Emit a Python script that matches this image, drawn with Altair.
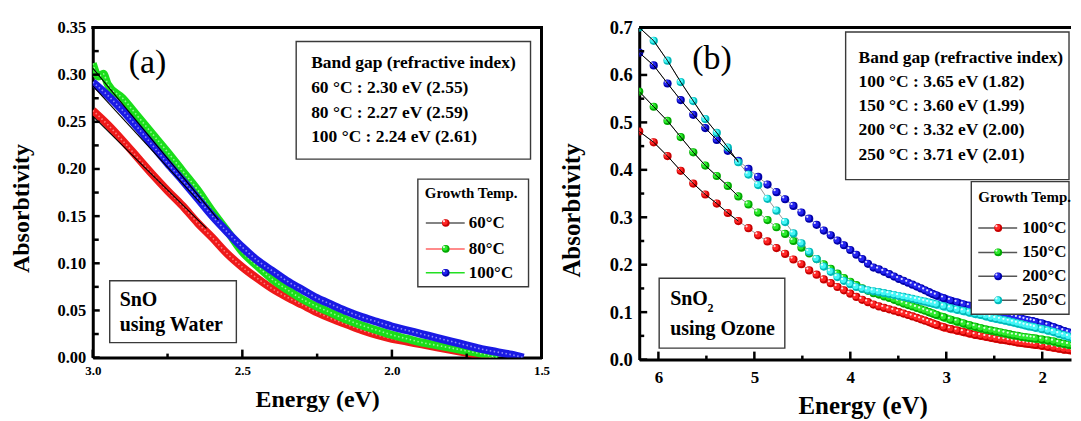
import altair as alt
import pandas as pd

FONT = "Liberation Serif"

# ---------------- panel (a): SnO using water ----------------
a_E_60 = [3.00, 2.95, 2.90, 2.85, 2.80, 2.75, 2.70, 2.65, 2.60, 2.55, 2.50, 2.45, 2.40, 2.35,
          2.30, 2.25, 2.20, 2.15, 2.10, 2.05, 2.00, 1.95, 1.90, 1.85, 1.80, 1.75, 1.70, 1.66]
a_A_60 = [0.262, 0.247, 0.230, 0.212, 0.194, 0.177, 0.161, 0.143, 0.127, 0.110, 0.096, 0.084,
          0.073, 0.064, 0.056, 0.048, 0.041, 0.035, 0.029, 0.024, 0.020, 0.017, 0.014, 0.011,
          0.008, 0.005, 0.002, 0.000]
a_E_80 = [3.00, 2.98, 2.965, 2.95, 2.90, 2.85, 2.80, 2.75, 2.70, 2.65, 2.60, 2.55, 2.50, 2.45,
          2.40, 2.35, 2.30, 2.25, 2.20, 2.15, 2.10, 2.05, 2.00, 1.95, 1.90, 1.85, 1.80, 1.75,
          1.70, 1.645]
a_A_80 = [0.312, 0.298, 0.301, 0.290, 0.275, 0.256, 0.237, 0.218, 0.198, 0.178, 0.155, 0.134,
          0.112, 0.097, 0.083, 0.072, 0.062, 0.054, 0.047, 0.040, 0.034, 0.029, 0.024, 0.020,
          0.016, 0.013, 0.010, 0.007, 0.004, 0.000]
a_E_100 = [3.00, 2.95, 2.90, 2.85, 2.80, 2.75, 2.70, 2.65, 2.60, 2.55, 2.50, 2.45, 2.40, 2.35,
           2.30, 2.25, 2.20, 2.15, 2.10, 2.05, 2.00, 1.95, 1.90, 1.85, 1.80, 1.75, 1.70, 1.65,
           1.60, 1.56]
a_A_100 = [0.292, 0.278, 0.262, 0.244, 0.225, 0.206, 0.188, 0.169, 0.150, 0.133, 0.117, 0.103,
           0.092, 0.081, 0.072, 0.063, 0.056, 0.049, 0.043, 0.038, 0.033, 0.029, 0.025, 0.021,
           0.017, 0.013, 0.009, 0.006, 0.003, 0.000]
a_fit_E_60, a_fit_A_60 = [3.00, 2.62], [0.256, 0.137]
a_fit_E_80, a_fit_A_80 = [3.00, 2.58], [0.307, 0.146]
a_fit_E_100, a_fit_A_100 = [3.00, 2.64], [0.288, 0.164]

a_xticks = [3.0, 2.5, 2.0, 1.5]
a_xminor = [2.75, 2.25, 1.75]
a_yticks = [0.00, 0.05, 0.10, 0.15, 0.20, 0.25, 0.30, 0.35]
a_yminor = [0.025, 0.075, 0.125, 0.175, 0.225, 0.275, 0.325]
a_info = ["Band gap (refractive index)", "60 °C : 2.30 eV (2.55)",
          "80 °C : 2.27 eV (2.59)", "100 °C : 2.24 eV (2.61)"]
a_legend = ["60°C", "80°C", "100°C"]

# ---------------- panel (b): SnO2 using ozone ----------------
b_lam = [200, 205, 210, 215, 220, 225, 230, 235, 240, 245, 250, 255, 260, 265, 270, 275, 280,
         285, 290, 295, 300, 305, 310, 315, 320, 325, 330,
         335, 340, 345, 350, 355, 360, 365, 370, 375, 380, 385, 390, 395, 400,
         410, 420, 430, 440, 450, 460, 470, 480, 490, 500, 510, 520, 530, 540, 550, 560,
         570, 580, 590, 600,
         620, 640, 660, 680, 700, 720, 740]
b_100 = [0.481, 0.458, 0.429, 0.398, 0.371, 0.348, 0.329, 0.309, 0.292, 0.277, 0.262, 0.249,
         0.235, 0.223, 0.211, 0.201, 0.188, 0.179, 0.169, 0.161, 0.153, 0.146, 0.139, 0.132,
         0.126, 0.121, 0.116,
         0.112, 0.109, 0.106, 0.103, 0.100, 0.097, 0.094, 0.091, 0.088, 0.085, 0.082, 0.079,
         0.076, 0.073,
         0.068, 0.064, 0.061, 0.058, 0.055, 0.052, 0.050, 0.048, 0.046, 0.044, 0.042, 0.041,
         0.039, 0.038, 0.036, 0.035, 0.034, 0.033, 0.032, 0.031,
         0.029, 0.027, 0.025, 0.023, 0.021, 0.020, 0.018]
b_150 = [0.565, 0.533, 0.503, 0.469, 0.437, 0.409, 0.387, 0.366, 0.344, 0.327, 0.310, 0.294,
         0.279, 0.265, 0.250, 0.236, 0.224, 0.212, 0.201, 0.191, 0.181, 0.172, 0.164, 0.157,
         0.150, 0.145, 0.140,
         0.137, 0.133, 0.130, 0.126, 0.122, 0.118, 0.115, 0.112, 0.109, 0.106, 0.103, 0.100,
         0.097, 0.094,
         0.089, 0.084, 0.080, 0.076, 0.072, 0.069, 0.066, 0.063, 0.061, 0.059, 0.057, 0.055,
         0.053, 0.051, 0.050, 0.048, 0.047, 0.046, 0.045, 0.044,
         0.042, 0.040, 0.038, 0.035, 0.033, 0.031, 0.029]
b_200 = [0.647, 0.620, 0.582, 0.547, 0.516, 0.488, 0.463, 0.440, 0.419, 0.402, 0.385, 0.369,
         0.353, 0.338, 0.324, 0.310, 0.297, 0.284, 0.272, 0.262, 0.251, 0.241, 0.231, 0.221,
         0.212, 0.202, 0.194,
         0.190, 0.185, 0.180, 0.175, 0.170, 0.166, 0.162, 0.158, 0.154, 0.150, 0.146, 0.142,
         0.138, 0.135,
         0.129, 0.124, 0.120, 0.116, 0.113, 0.110, 0.107, 0.104, 0.101, 0.099, 0.097, 0.094,
         0.092, 0.090, 0.088, 0.086, 0.084, 0.082, 0.081, 0.079,
         0.076, 0.072, 0.068, 0.064, 0.060, 0.057, 0.054]
b_250 = [0.700, 0.672, 0.630, 0.585, 0.545, 0.507, 0.478, 0.447, 0.416, 0.390, 0.368, 0.339,
         0.314, 0.290, 0.266, 0.245, 0.227, 0.212, 0.196, 0.185, 0.174, 0.166, 0.159, 0.153,
         0.149, 0.146, 0.144,
         0.142, 0.140, 0.138, 0.136, 0.134, 0.132, 0.130, 0.128, 0.126, 0.124, 0.122, 0.120,
         0.118, 0.116,
         0.112, 0.108, 0.105, 0.102, 0.099, 0.096, 0.094, 0.091, 0.088, 0.086, 0.084, 0.082,
         0.080, 0.078, 0.076, 0.074, 0.072, 0.070, 0.069, 0.067,
         0.064, 0.061, 0.058, 0.054, 0.051, 0.048, 0.045]
b_fit_max_lam = 240
b_dense_min_lam = 390

b_xticks = [6, 5, 4, 3, 2]
b_xminor = [5.5, 4.5, 3.5, 2.5]
b_yticks = [0.0, 0.1, 0.2, 0.3, 0.4, 0.5, 0.6, 0.7]
b_yminor = [0.05, 0.15, 0.25, 0.35, 0.45, 0.55, 0.65]
b_info = ["Band gap (refractive index)", "100 °C : 3.65 eV (1.82)", "150 °C : 3.60 eV (1.99)",
          "200 °C : 3.32 eV (2.00)", "250 °C : 3.71 eV (2.01)"]
b_legend = ["100°C", "150°C", "200°C", "250°C"]

# ---------------- styling ----------------
RED = ("#c80000", "#ff2626")
GREEN = ("#00a800", "#2cea2c")
BLUE = ("#0000a8", "#2424f0")
CYAN = ("#00b8b8", "#44f6f6")

WA, HA = 450, 331
WB, HB = 433, 333

one = pd.DataFrame({"k": [0]})


def axis(**kw):
    base = dict(ticks=False, grid=False, domain=True, domainColor="black", domainWidth=3,
                labelFont=FONT, labelFontWeight="bold", labelColor="black", labelFlush=False,
                labelOverlap=False, titleFont=FONT, titleFontWeight="bold", titleColor="black")
    base.update(kw)
    return alt.Axis(**base)


def txt(s, x, y, size, weight="bold", align="left", baseline="middle"):
    return alt.Chart(one).mark_text(text=s, font=FONT, fontSize=size, fontWeight=weight,
                                    align=align, baseline=baseline, color="black").encode(
        x=alt.value(x), y=alt.value(y))


def box(x1, y1, x2, y2, stroke="#3a3a3a", sw=1.4):
    return alt.Chart(one).mark_rect(fill="white", stroke=stroke, strokeWidth=sw).encode(
        x=alt.value(x1), x2=alt.value(x2), y=alt.value(y1), y2=alt.value(y2))


def hrule(x1, x2, y, color="black", sw=3, cap="square", opacity=1):
    return alt.Chart(one).mark_rule(color=color, strokeWidth=sw, strokeCap=cap,
                                    strokeOpacity=opacity).encode(
        x=alt.value(x1), x2=alt.value(x2), y=alt.value(y))


def vrule(x, y1, y2, color="black", sw=3, cap="square", opacity=1):
    return alt.Chart(one).mark_rule(color=color, strokeWidth=sw, strokeCap=cap,
                                    strokeOpacity=opacity).encode(
        x=alt.value(x), y=alt.value(y1), y2=alt.value(y2))


def sphere_value(x, y, cols, size=62):
    base, mid = cols
    return [
        alt.Chart(one).mark_circle(size=size, color=base, opacity=1).encode(x=alt.value(x), y=alt.value(y)),
        alt.Chart(one).mark_circle(size=size * 0.5, color=mid, opacity=1, xOffset=-0.8, yOffset=-0.8).encode(x=alt.value(x), y=alt.value(y)),
        alt.Chart(one).mark_circle(size=5, color="white", opacity=0.85, xOffset=-1.8, yOffset=-1.8).encode(x=alt.value(x), y=alt.value(y)),
    ]


def yticks(vals, ys, yax, length, sw=2.5):
    return alt.Chart(pd.DataFrame({"v": vals})).mark_rule(color="black", strokeWidth=sw).encode(
        y=alt.Y("v:Q", scale=ys, axis=yax), x=alt.value(0), x2=alt.value(length))


def xticks(vals, xs, xax, H, length, sw=2.5):
    return alt.Chart(pd.DataFrame({"v": vals})).mark_rule(color="black", strokeWidth=sw).encode(
        x=alt.X("v:Q", scale=xs, axis=xax), y=alt.value(H), y2=alt.value(H - length))


# ---------------- panel (a) ----------------
xa = alt.Scale(domain=[3.0, 1.5], nice=False, zero=False)
ya = alt.Scale(domain=[0, 0.35], nice=False, zero=False)
ax_xa = axis(values=a_xticks, format=".1f", labelFontSize=13, labelPadding=7,
             title="Energy (eV)", titleFontSize=24, titlePadding=10)
ax_ya = axis(values=a_yticks, format=".2f", labelFontSize=16.5, labelPadding=7,
             title="Absorbtivity", titleFontSize=24, titlePadding=24, titleY=181)
XA = lambda f="E": alt.X(f"{f}:Q", scale=xa, axis=ax_xa)
YA = lambda f="A": alt.Y(f"{f}:Q", scale=ya, axis=ax_ya)

layers_a = []
a_series = [(a_E_60, a_A_60, "#ee1a1a", "#ff9a9a"), (a_E_80, a_A_80, "#1ade1a", "#b0ffb0"),
            (a_E_100, a_A_100, "#1a1ae4", "#a8a8ff")]
for E, A, col, light in a_series:
    df = pd.DataFrame({"E": E, "A": A})
    layers_a.append(alt.Chart(df).mark_line(color=col, strokeWidth=8, clip=True,
                                            interpolate="monotone").encode(x=XA(), y=YA()))
    layers_a.append(alt.Chart(df).mark_line(color=light, strokeWidth=1.6, opacity=0.8, clip=True,
                                            strokeDash=[1.5, 2.5], interpolate="monotone").encode(
        x=XA(), y=YA()))
for E, A in [(a_fit_E_60, a_fit_A_60), (a_fit_E_80, a_fit_A_80), (a_fit_E_100, a_fit_A_100)]:
    layers_a.append(alt.Chart(pd.DataFrame({"E": E, "A": A})).mark_line(
        color="black", strokeWidth=1.1, clip=True).encode(x=XA(), y=YA()))

layers_a += [yticks(a_yticks, ya, ax_ya, 7), yticks(a_yminor, ya, ax_ya, 6),
             xticks(a_xticks, xa, ax_xa, HA, 8), xticks(a_xminor, xa, ax_xa, HA, 4),
             hrule(0, WA, 0), vrule(WA, 0, HA)]
layers_a.append(txt("(a)", 55, 36, 34, weight="normal", align="center"))
layers_a.append(box(204, 14, 439, 132))
for j, s in enumerate(a_info):
    layers_a.append(txt(s, 219, [36, 61, 86, 110][j], 17.5))
layers_a.append(box(326, 152, 437, 260))
layers_a.append(txt("Growth Temp.", 333, 166, 15))
a_leg_lines = ["#5a5a5a", "#ff6464", "#22e022"]
for j, (lab, lc, cols) in enumerate(zip(a_legend, a_leg_lines, [RED, GREEN, BLUE])):
    yy = [196, 222, 246][j]
    layers_a.append(hrule(334, 373, yy, color=lc, sw=1.5, cap="butt"))
    layers_a += sphere_value(354, yy, cols, size=58)
    layers_a.append(txt(lab, 377, yy, 17))
layers_a.append(box(17, 254, 144, 316))
layers_a.append(txt("SnO", 27, 273, 20))
layers_a.append(txt("using Water", 27, 298, 20))

left = alt.layer(*layers_a).properties(width=WA, height=HA)

# ---------------- panel (b) ----------------
xb = alt.Scale(domain=[6.2, 1.70], nice=False, zero=False)
yb = alt.Scale(domain=[0, 0.7], nice=False, zero=False)
ax_xb = axis(values=b_xticks, format="d", labelFontSize=17, labelPadding=10,
             title="Energy (eV)", titleFontSize=25, titlePadding=8, titleX=224)
ax_yb = axis(values=b_yticks, format=".1f", labelFontSize=18.5, labelPadding=7,
             title="Absorbtivity", titleFontSize=25, titlePadding=25, titleY=183)
XB = lambda f="E": alt.X(f"{f}:Q", scale=xb, axis=ax_xb)
YB = lambda f="A": alt.Y(f"{f}:Q", scale=yb, axis=ax_yb)

layers_b = []
b_series = [(b_100, RED), (b_150, GREEN), (b_200, BLUE), (b_250, CYAN)]
for vals, cols in b_series:
    df = pd.DataFrame({"lam": b_lam, "A": vals})
    base = alt.Chart(df).transform_calculate(E="1240 / datum.lam")
    layers_b.append(base.mark_line(color="#7a7a7a", strokeWidth=0.8, clip=True).encode(x=XB(), y=YB()))
    layers_b.append(base.transform_filter(f"datum.lam >= {b_dense_min_lam}")
                    .mark_line(color=cols[1], strokeWidth=8, clip=True).encode(x=XB(), y=YB()))
    layers_b.append(base.mark_circle(size=68, color=cols[0], opacity=1, clip=True).encode(x=XB(), y=YB()))
    layers_b.append(base.mark_circle(size=34, color=cols[1], opacity=1, clip=True,
                                     xOffset=-0.8, yOffset=-0.8).encode(x=XB(), y=YB()))
    layers_b.append(base.mark_circle(size=5, color="white", opacity=0.85, clip=True,
                                     xOffset=-1.9, yOffset=-1.9).encode(x=XB(), y=YB()))
for vals, cols in b_series:
    df = pd.DataFrame({"lam": b_lam, "A": vals})
    layers_b.append(alt.Chart(df).transform_filter(f"datum.lam <= {b_fit_max_lam}")
                    .transform_calculate(E="1240 / datum.lam")
                    .mark_line(color="black", strokeWidth=1.0, clip=True)
                    .encode(x=XB(), y=YB()))

layers_b += [yticks(b_yticks, yb, ax_yb, 8), yticks(b_yminor, yb, ax_yb, 5),
             xticks(b_xticks, xb, ax_xb, HB, 8), xticks(b_xminor, xb, ax_xb, HB, 4),
             hrule(0, WB, 0, cap="butt"), vrule(20, -12.5, -11.5, sw=1, opacity=0)]
layers_b.append(txt("(b)", 73, 31.5, 34, weight="normal", align="center"))
layers_b.append(box(207, 4.5, 431, 152.5))
for j, s in enumerate(b_info):
    layers_b.append(txt(s, 220, [31, 55, 79, 103, 128][j], 17.5))
layers_b.append(box(333, 154.5, 431, 287.5))
layers_b.append(txt("Growth Temp.", 340, 169.5, 15))
for j, (lab, (vals, cols)) in enumerate(zip(b_legend, b_series)):
    yy = [201, 225.5, 249.5, 273.5][j]
    layers_b.append(hrule(340, 379, yy, color="#555555", sw=1.5, cap="butt"))
    layers_b += sphere_value(360, yy, cols, size=62)
    layers_b.append(txt(lab, 384, yy, 17))
layers_b.append(box(20, 251.5, 146, 321.5))
layers_b.append(txt("SnO", 31, 272.5, 20))
layers_b.append(txt("2", 68.5, 281, 12))
layers_b.append(txt("using Ozone", 31, 302.5, 20))

right = alt.layer(*layers_b).properties(width=WB, height=HB)

chart = alt.hconcat(left, right, spacing=8).properties(
    padding={"left": 1, "top": 6, "right": 0, "bottom": 0}, background="white"
).configure_view(stroke=None)

chart.save("out.html", embed_options={"renderer": "svg", "actions": False})
